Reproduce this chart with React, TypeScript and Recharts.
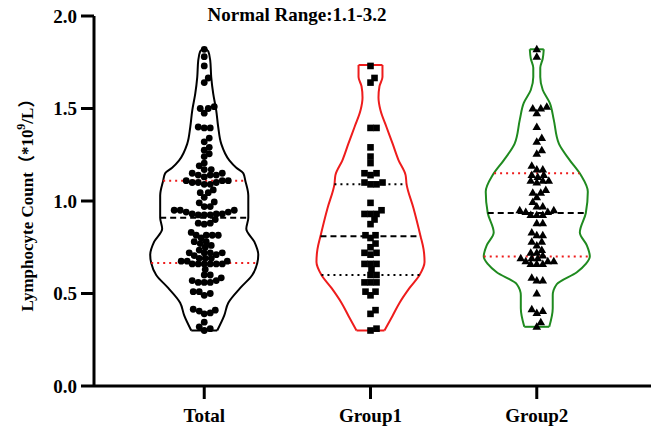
import { ComposedChart, Line, Scatter, XAxis, YAxis, Label } from 'recharts'

const groups = ['Total', 'Group1', 'Group2']
const yTicks = [0, 0.5, 1.0, 1.5, 2.0]

// lymphocyte counts
const group1Values = [
  1.73, 1.665, 1.64, 1.395, 1.395, 1.29, 1.24, 1.205, 1.15, 1.15, 1.14, 1.1, 1.09, 1.09, 1.1,
  0.99, 0.95, 0.93, 0.93, 0.93, 0.9, 0.875, 0.815, 0.815, 0.8, 0.77, 0.75, 0.72, 0.72, 0.71,
  0.66, 0.66, 0.66, 0.63, 0.6, 0.6, 0.56, 0.56, 0.56, 0.51, 0.51, 0.49, 0.41, 0.39, 0.31, 0.3,
]
const group2Values = [
  1.82, 1.78, 1.5, 1.5, 1.51, 1.475, 1.4, 1.34, 1.32, 1.275, 1.255, 1.19, 1.17, 1.17, 1.14, 1.14,
  1.13, 1.11, 1.11, 1.11, 1.1, 1.06, 1.045, 1.045, 1.02, 0.995, 0.97, 0.97, 0.95, 0.95, 0.94, 0.94,
  0.925, 0.925, 0.925, 0.88, 0.88, 0.83, 0.815, 0.815, 0.78, 0.78, 0.76, 0.735, 0.72, 0.72, 0.705,
  0.69, 0.69, 0.69, 0.675, 0.675, 0.675, 0.66, 0.66, 0.66, 0.585, 0.57, 0.57, 0.5, 0.415, 0.405,
  0.395, 0.345, 0.32,
]
const totalValues = [...group1Values, ...group2Values]

// violin outlines: [value, half width of the density]
const totalOutline = [
  [0.3, 0.078], [0.38, 0.12], [0.45, 0.145], [0.53, 0.217], [0.6, 0.289], [0.665, 0.319],
  [0.71, 0.325], [0.78, 0.301], [0.85, 0.253], [0.91, 0.265], [1.03, 0.265], [1.11, 0.247],
  [1.15, 0.235], [1.18, 0.193], [1.22, 0.151], [1.31, 0.102], [1.4, 0.084], [1.49, 0.072],
  [1.58, 0.054], [1.67, 0.042], [1.76, 0.036], [1.81, 0.024], [1.827, 0],
]
const group1Outline = [
  [0.3, 0.084], [0.38, 0.133], [0.45, 0.175], [0.53, 0.235], [0.6, 0.295], [0.67, 0.325],
  [0.74, 0.319], [0.81, 0.301], [0.96, 0.259], [1.09, 0.217], [1.14, 0.211], [1.22, 0.169],
  [1.31, 0.133], [1.4, 0.096], [1.49, 0.06], [1.56, 0.048], [1.62, 0.054], [1.67, 0.072],
  [1.735, 0.072],
]
const group2Outline = [
  [0.32, 0.075], [0.42, 0.096], [0.49, 0.096], [0.55, 0.12], [0.615, 0.241], [0.66, 0.295],
  [0.7, 0.319], [0.76, 0.301], [0.83, 0.259], [0.935, 0.295], [1.05, 0.307], [1.14, 0.265],
  [1.22, 0.199], [1.31, 0.133], [1.44, 0.102], [1.53, 0.078], [1.6, 0.036], [1.67, 0.021],
  [1.72, 0.021], [1.77, 0.036], [1.82, 0.042],
]

// lower quartile, median, upper quartile
const totalStats = [0.665, 0.91, 1.11]
const group1Stats = [0.6, 0.81, 1.09]
const group2Stats = [0.7, 0.935, 1.15]

const FONT = "'Liberation Serif', 'Noto Sans CJK SC', serif"
const RED = '#ee1c1c'
const GREEN = '#1f8a1f'
const X_PX = 166 // px per x unit
const Y_PX = 185 // px per y unit
const DOT = 5.6

const swarm = (values: number[], center: number) => {
  const placed: { x: number; y: number }[] = []
  const out: { x: number; y: number }[] = []
  const sorted = [...values].sort((a, b) => a - b)
  for (const v of sorted) {
    const py = v * Y_PX
    for (let k = 0; k < 200; k++) {
      const off = (k % 2 === 1 ? 1 : -1) * Math.ceil(k / 2)
      const free = placed.every(p => (p.x - off) ** 2 + (p.y - py) ** 2 >= DOT * DOT)
      if (free) {
        placed.push({ x: off, y: py })
        out.push({ x: center + off / X_PX, y: v })
        break
      }
    }
  }
  return out
}

const widthAt = (outline: number[][], v: number) => {
  for (let i = 1; i < outline.length; i++) {
    const [v0, w0] = outline[i - 1]
    const [v1, w1] = outline[i]
    if (v >= v0 && v <= v1) return w0 + ((w1 - w0) * (v - v0)) / (v1 - v0)
  }
  return 0
}

const violins = [
  { center: 1, outline: totalOutline, stats: totalStats, color: '#000', quartile: RED },
  { center: 2, outline: group1Outline, stats: group1Stats, color: RED, quartile: '#000' },
  { center: 3, outline: group2Outline, stats: group2Stats, color: GREEN, quartile: RED },
]

const Circle = (p: any) => <circle cx={p.cx} cy={p.cy} r={3.4} fill="#000" />
const Square = (p: any) => <rect x={p.cx - 3.3} y={p.cy - 3.3} width={6.6} height={6.6} fill="#000" />
const Triangle = (p: any) => (
  <polygon points={`${p.cx},${p.cy - 4.5} ${p.cx + 4.3},${p.cy + 3} ${p.cx - 4.3},${p.cy + 3}`} fill="#000" />
)

const YLabel = () => (
  <text
    x={27}
    y={201}
    transform="rotate(-90 27 201)"
    textAnchor="middle"
    dominantBaseline="central"
    fontFamily={FONT}
    fontWeight="bold"
    fontSize={17}
    fill="#000"
  >
    Lymphocyte Count（*10<tspan dy={-6} fontSize={12}>9</tspan>
    <tspan dy={6}>/L）</tspan>
  </text>
)

const tickStyle = { fill: '#000', fontSize: 19, fontWeight: 'bold', fontFamily: FONT }

export default function App() {
  const lines: any[] = []
  violins.forEach((vl, i) => {
    const right = vl.outline.map(([v, w]) => ({ x: vl.center + w, y: v }))
    const left = vl.outline.map(([v, w]) => ({ x: vl.center - w, y: v }))
    const [b0, bw] = vl.outline[0]
    const [t0, tw] = vl.outline[vl.outline.length - 1]
    const common = { dataKey: 'y', dot: false, activeDot: false, isAnimationActive: false, stroke: vl.color, strokeWidth: 2 }
    lines.push(<Line key={`r${i}`} data={right} type="monotoneY" {...common} />)
    lines.push(<Line key={`l${i}`} data={left} type="monotoneY" {...common} />)
    lines.push(
      <Line key={`b${i}`} data={[{ x: vl.center - bw, y: b0 }, { x: vl.center + bw, y: b0 }]} type="linear" {...common} />
    )
    if (tw > 0) {
      lines.push(
        <Line key={`t${i}`} data={[{ x: vl.center - tw, y: t0 }, { x: vl.center + tw, y: t0 }]} type="linear" {...common} />
      )
    }
    vl.stats.forEach((s, j) => {
      const w = widthAt(vl.outline, s)
      const median = j === 1
      lines.push(
        <Line
          key={`s${i}${j}`}
          data={[{ x: vl.center - w, y: s }, { x: vl.center + w, y: s }]}
          type="linear"
          dataKey="y"
          dot={false}
          activeDot={false}
          isAnimationActive={false}
          stroke={median ? '#000' : vl.quartile}
          strokeWidth={2}
          strokeDasharray={median ? '6 4' : '2 4'}
        />
      )
    })
  })

  return (
    <div style={{ position: 'absolute', left: 0, top: 0, width: 651, height: 431, background: '#fff' }}>
      <div
        style={{
          position: 'absolute',
          left: 297,
          top: 15,
          transform: 'translate(-50%, -50%)',
          fontFamily: FONT,
          fontWeight: 'bold',
          fontSize: 19,
          whiteSpace: 'nowrap',
        }}
      >
        Normal Range:1.1-3.2
      </div>
      <ComposedChart width={651} height={431} margin={{ top: 16, right: 0, left: 0, bottom: 0 }}>
        <XAxis
          type="number"
          dataKey="x"
          domain={[0.337, 3.687]}
          allowDataOverflow
          ticks={[1, 2, 3]}
          tickFormatter={(t: number) => groups[t - 1]}
          height={45}
          tickSize={13}
          tickMargin={10}
          axisLine={{ stroke: '#000', strokeWidth: 3 }}
          tickLine={{ stroke: '#000', strokeWidth: 3 }}
          tick={tickStyle}
        />
        <YAxis
          type="number"
          dataKey="y"
          domain={[0, 2]}
          ticks={yTicks}
          tickFormatter={(t: number) => t.toFixed(1)}
          width={94}
          tickSize={13}
          tickMargin={4}
          axisLine={{ stroke: '#000', strokeWidth: 3 }}
          tickLine={{ stroke: '#000', strokeWidth: 3 }}
          tick={tickStyle}
        >
          <Label content={() => <YLabel />} />
        </YAxis>
        {lines}
        <Scatter data={swarm(totalValues, 1)} dataKey="y" shape={Circle} isAnimationActive={false} />
        <Scatter data={swarm(group1Values, 2)} dataKey="y" shape={Square} isAnimationActive={false} />
        <Scatter data={swarm(group2Values, 3)} dataKey="y" shape={Triangle} isAnimationActive={false} />
      </ComposedChart>
    </div>
  )
}
